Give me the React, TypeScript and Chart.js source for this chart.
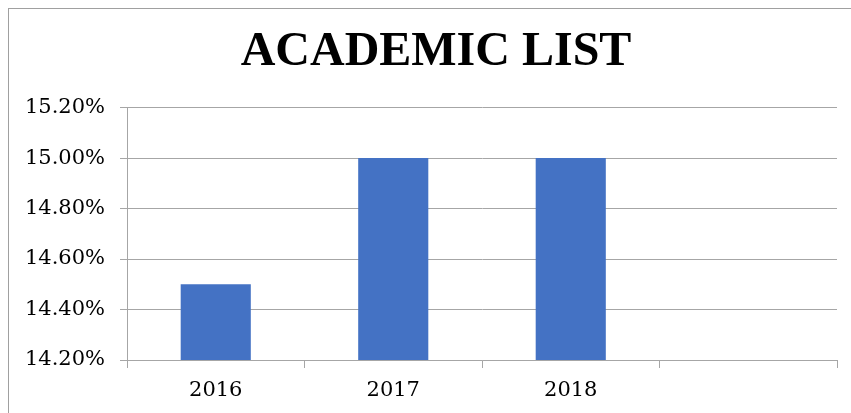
import React, { useEffect, useRef } from "react";
import { Chart, registerables } from "chart.js";

Chart.register(...registerables);

const categories: string[] = ["2016", "2017", "2018", ""];
const values: (number | null)[] = [14.5, 15.0, 15.0, null];
const yMin = 14.2;
const yMax = 15.2;
const yStep = 0.2;
const titleText = "ACADEMIC LIST";

const GRID = "#a6a6a6";

export default function App() {
  const ref = useRef<HTMLCanvasElement | null>(null);

  useEffect(() => {
    document.body.style.overflow = "hidden";
    document.documentElement.style.overflow = "hidden";
    const ctx = ref.current;
    if (!ctx) return;
    const chart = new Chart(ctx, {
      type: "bar",
      data: {
        labels: categories,
        datasets: [
          {
            data: values,
            backgroundColor: "#4472C4",
            borderColor: "#4472C4",
            borderWidth: 0,
            categoryPercentage: 1,
            barPercentage: 0.395,
          },
        ],
      },
      options: {
        responsive: false,
        animation: false,
        layout: { padding: 0 },
        plugins: {
          legend: { display: false },
          tooltip: { enabled: false },
          title: {
            display: true,
            text: titleText,
            color: "#000",
            font: { family: "Liberation Serif", size: 48, weight: "bold" },
            padding: { top: 15, bottom: 26 },
          },
        },
        scales: {
          x: {
            offset: true,
            grid: {
              offset: true,
              drawOnChartArea: false,
              drawTicks: true,
              tickLength: 8,
              color: GRID,
            },
            border: { display: true, color: GRID },
            ticks: {
              color: "#000",
              font: { family: "DejaVu Serif", size: 21 },
              padding: 10,
              maxRotation: 0,
            },
            afterFit: (s: any) => {
              s.height = 69;
            },
          },
          y: {
            min: yMin,
            max: yMax,
            grid: { color: GRID, tickLength: 7 },
            border: { display: true, color: GRID },
            ticks: {
              stepSize: yStep,
              color: "#000",
              font: { family: "DejaVu Serif", size: 21 },
              padding: 15,
              callback: (v: any) => Number(v).toFixed(2) + "%",
            },
            afterFit: (s: any) => {
              s.width = 118;
            },
          },
          yRight: {
            position: "right",
            min: yMin,
            max: yMax,
            grid: { display: false },
            border: { display: false },
            ticks: { display: false },
            afterFit: (s: any) => {
              s.width = 26;
            },
          },
        },
      },
    });
    return () => chart.destroy();
  }, []);

  return (
    <div
      style={{
        position: "fixed",
        left: 8,
        top: 8,
        width: 900,
        height: 500,
        borderLeft: "1px solid #a0a0a0",
        borderTop: "1px solid #a0a0a0",
        background: "#fff",
      }}
    >
      <canvas
        ref={ref}
        width={854}
        height={420}
        style={{ position: "absolute", left: 0, top: 0 }}
      />
    </div>
  );
}
